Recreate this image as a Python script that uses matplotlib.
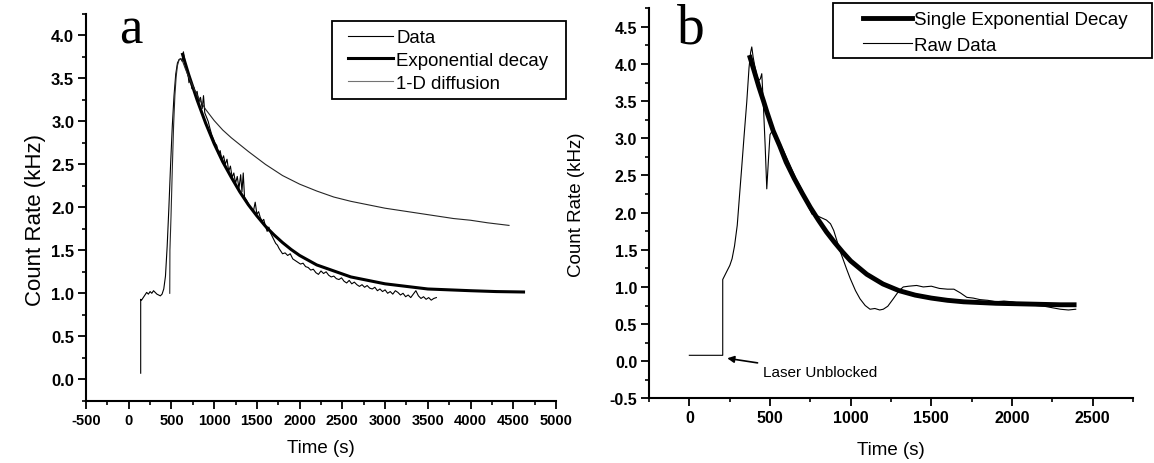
import matplotlib
matplotlib.use("Agg")
import matplotlib.pyplot as plt
from matplotlib.ticker import MultipleLocator, FormatStrFormatter
from matplotlib.lines import Line2D
from matplotlib.patches import Rectangle

plt.rcParams['font.family'] = ['Liberation Sans', 'DejaVu Sans']
plt.rcParams['axes.unicode_minus'] = False

# ---------------- panel a: values ----------------
a_data_t = [140, 140, 150, 170, 190, 210, 230, 250, 270, 290, 310, 330, 350, 370, 390,
            410, 430, 450, 470, 490, 510, 530, 550, 570, 590, 610, 625, 640, 655, 670,
            690, 705, 720, 740, 760, 780, 800, 820, 840, 860, 875, 890, 910, 930, 950,
            970, 990, 1010, 1030, 1050, 1070, 1090, 1110, 1130, 1150, 1170, 1190, 1210,
            1230, 1250, 1270, 1290, 1310, 1325, 1340, 1355, 1380, 1400, 1420, 1440, 1460,
            1480, 1500, 1520, 1540, 1560, 1580, 1600, 1620, 1640, 1660, 1680, 1700, 1720,
            1740, 1760, 1780, 1800, 1830, 1860, 1890, 1920, 1950, 1980, 2010, 2040, 2070,
            2100, 2130, 2160, 2190, 2220, 2250, 2280, 2310, 2340, 2370, 2400, 2430, 2460,
            2490, 2520, 2550, 2580, 2610, 2640, 2670, 2700, 2730, 2760, 2790, 2820, 2850,
            2880, 2910, 2940, 2970, 3000, 3030, 3060, 3090, 3120, 3150, 3180, 3210, 3240,
            3270, 3300, 3330, 3360, 3390, 3420, 3450, 3480, 3510, 3540, 3570, 3600]
a_data_y = [0.07, 0.93, 0.92, 0.95, 0.98, 1.01, 0.99, 1.02, 1.00, 1.03, 1.01, 0.99, 0.98, 0.97, 0.99,
            1.05, 1.20, 1.55, 2.00, 2.50, 2.95, 3.30, 3.55, 3.68, 3.72, 3.73, 3.70, 3.81, 3.72, 3.62,
            3.58, 3.45, 3.50, 3.38, 3.40, 3.32, 3.35, 3.22, 3.28, 3.15, 3.30, 3.10, 3.05, 3.00, 2.92,
            2.85, 2.80, 2.75, 2.72, 2.62, 2.66, 2.55, 2.60, 2.50, 2.56, 2.42, 2.48, 2.35,
            2.40, 2.28, 2.36, 2.22, 2.38, 2.18, 2.40, 2.12, 2.08, 2.04, 2.00, 1.98, 1.96,
            2.06, 1.92, 1.95, 1.88, 1.84, 1.86, 1.78, 1.72, 1.77, 1.70, 1.66, 1.62, 1.58,
            1.56, 1.52, 1.49, 1.46, 1.47, 1.44, 1.46, 1.40, 1.38, 1.36, 1.34, 1.35, 1.31,
            1.30, 1.27, 1.28, 1.24, 1.22, 1.26, 1.23, 1.25, 1.21, 1.19, 1.20, 1.17, 1.16,
            1.18, 1.14, 1.12, 1.15, 1.11, 1.13, 1.10, 1.08, 1.10, 1.07, 1.09, 1.06, 1.05,
            1.07, 1.03, 1.05, 1.02, 1.04, 1.00, 1.02, 0.99, 1.03, 1.01, 0.98, 1.00, 0.96,
            0.98, 0.95, 0.99, 1.03, 0.97, 0.94, 0.96, 0.93, 0.95, 0.92, 0.94, 0.95]

a_exp_t = [630, 700, 800, 900, 1000, 1100, 1200, 1300, 1400, 1500, 1600, 1700, 1800,
           1900, 2000, 2200, 2400, 2600, 2800, 3000, 3250, 3500, 3750, 4000, 4300, 4620]
a_exp_y = [3.78, 3.55, 3.25, 2.98, 2.74, 2.53, 2.35, 2.18, 2.03, 1.90, 1.78, 1.68, 1.59,
           1.51, 1.44, 1.33, 1.26, 1.19, 1.15, 1.11, 1.08, 1.05, 1.04, 1.03, 1.02, 1.015]

a_diff_t = [480, 482, 495, 510, 525, 540, 555, 570, 590, 610, 630, 660, 700, 750, 800,
            850, 900, 1000, 1100, 1200, 1300, 1400, 1600, 1800, 2000, 2200, 2400, 2600,
            2800, 3000, 3200, 3400, 3600, 3800, 4000, 4200, 4450]
a_diff_y = [1.00, 1.50, 1.90, 2.45, 2.95, 3.30, 3.52, 3.65, 3.72, 3.73, 3.70, 3.62, 3.52,
            3.41, 3.31, 3.22, 3.14, 3.01, 2.90, 2.81, 2.73, 2.65, 2.50, 2.37, 2.27, 2.19,
            2.12, 2.07, 2.03, 1.99, 1.96, 1.93, 1.90, 1.87, 1.85, 1.82, 1.79]

# ---------------- panel b ----------------
b_raw_t = [0, 207, 207, 230, 251, 265, 280, 297, 310, 324, 340, 356, 370, 380, 387, 395,
           405, 418, 430, 440, 449, 458, 470, 480, 490, 500, 520, 550, 583, 620, 660,
           700, 730, 760, 790, 820, 850, 875, 895, 915, 935, 955, 975, 996, 1030, 1058,
           1090, 1120, 1150, 1180, 1202, 1230, 1264, 1300, 1326, 1360, 1409, 1450, 1500,
           1550, 1600, 1640, 1680, 1720, 1760, 1800, 1850, 1900, 1950, 2000, 2050, 2100,
           2150, 2200, 2250, 2300, 2350, 2395]
b_raw_y = [0.08, 0.08, 1.10, 1.20, 1.29, 1.38, 1.55, 1.83, 2.20, 2.59, 3.05, 3.49, 3.95,
           4.16, 4.23, 4.10, 3.98, 3.85, 3.78, 3.80, 3.87, 3.50, 2.90, 2.32, 2.70, 3.05,
           3.12, 2.98, 2.84, 2.66, 2.46, 2.30, 2.12, 1.98, 1.96, 1.93, 1.90, 1.85, 1.76,
           1.62, 1.48, 1.36, 1.24, 1.12, 0.95, 0.84, 0.75, 0.70, 0.71, 0.69, 0.70, 0.74,
           0.84, 0.95, 1.00, 1.01, 1.02, 1.00, 1.01, 0.98, 0.97, 0.97, 0.92, 0.86, 0.85,
           0.83, 0.82, 0.80, 0.81, 0.80, 0.78, 0.77, 0.75, 0.74, 0.72, 0.70, 0.69, 0.70]

b_exp_t = [372, 400, 430, 460, 480, 520, 560, 600, 650, 700, 750, 800, 850, 900, 950,
           1000, 1100, 1200, 1300, 1400, 1500, 1600, 1700, 1800, 1900, 2000, 2100, 2200,
           2300, 2400]
b_exp_y = [4.12, 3.92, 3.70, 3.50, 3.36, 3.10, 2.90, 2.68, 2.46, 2.26, 2.07, 1.90, 1.74,
           1.60, 1.47, 1.35, 1.17, 1.04, 0.95, 0.89, 0.85, 0.82, 0.80, 0.79, 0.78, 0.775,
           0.77, 0.765, 0.76, 0.76]

W, H = 1154, 464
fig = plt.figure(figsize=(W / 100, H / 100), dpi=100)
axa = fig.add_axes([86 / W, 1 - 401.7 / H, 470 / W, 386.7 / H])
axb = fig.add_axes([649 / W, 1 - 399.4 / H, 484 / W, 390.1 / H])


def fx(px):
    return px / W


def fy(py):
    return 1 - py / H


for ax in (axa, axb):
    ax.spines['top'].set_visible(False)
    ax.spines['right'].set_visible(False)
    for s in ('left', 'bottom'):
        ax.spines[s].set_linewidth(1.5)
    ax.tick_params(which='major', direction='out', length=5.5, width=1.3, pad=3)
    ax.tick_params(which='minor', direction='out', length=3, width=1.2)
    ax.yaxis.set_major_locator(MultipleLocator(0.5))
    ax.yaxis.set_minor_locator(MultipleLocator(0.25))
    ax.xaxis.set_major_locator(MultipleLocator(500))
    ax.xaxis.set_minor_locator(MultipleLocator(250))
    ax.yaxis.set_major_formatter(FormatStrFormatter('%.1f'))
    ax.set_xlabel('Time (s)', fontsize=13.5)

axa.tick_params(axis='x', labelsize=10.5)
axa.tick_params(axis='y', labelsize=12)
axb.tick_params(labelsize=11.5)

# panel a
axa.plot(a_data_t, a_data_y, color='black', lw=0.8)
axa.plot(a_exp_t, a_exp_y, color='black', lw=2.2)
axa.plot(a_diff_t, a_diff_y, color='0.15', lw=0.8)
axa.set_xlim(-500, 5000)
axa.set_ylim(-0.25, 4.25)
axa.set_ylabel('Count Rate (kHz)', fontsize=16)
axa.xaxis.set_label_coords(0.5, -0.1)
axa.yaxis.set_label_coords(-0.085, 0.47)

handles_a = [Line2D([], [], color='black', lw=0.8),
             Line2D([], [], color='black', lw=2.2),
             Line2D([], [], color='0.45', lw=0.8)]
fig.legend(handles_a, ['Data', 'Exponential decay', '1-D diffusion'],
           loc='upper left', bbox_to_anchor=(fx(348), fy(30)),
           fontsize=13.4, frameon=False, handlelength=2.4, handletextpad=0.2,
           labelspacing=0.32, borderpad=0, borderaxespad=0)
fig.patches.append(Rectangle((fx(332), fy(100)), fx(566) - fx(332), fy(22) - fy(100),
                             transform=fig.transFigure, fill=False, lw=1.3,
                             edgecolor='black'))
fig.text(fx(119), fy(43), 'a', fontsize=38, family='Liberation Serif', va='baseline')

# panel b
axb.plot(b_raw_t, b_raw_y, color='black', lw=0.8)
axb.plot(b_exp_t, b_exp_y, color='black', lw=3.5, solid_capstyle='butt')
axb.set_xlim(-250, 2750)
axb.set_ylim(-0.5, 4.75)
axb.set_xticks([0, 500, 1000, 1500, 2000, 2500])
axb.set_ylabel('Count Rate (kHz)', fontsize=13.5)
axb.xaxis.set_label_coords(0.5, -0.11)
axb.yaxis.set_label_coords(-0.132, 0.5)

handles_b = [Line2D([], [], color='black', lw=3.5),
             Line2D([], [], color='black', lw=0.8)]
fig.legend(handles_b, ['Single Exponential Decay', 'Raw Data'],
           loc='upper left', bbox_to_anchor=(fx(863), fy(12)),
           fontsize=13.5, frameon=False, handlelength=2.6, handletextpad=0.1,
           labelspacing=0.45, borderpad=0, borderaxespad=0)
fig.patches.append(Rectangle((fx(833), fy(59)), fx(1152) - fx(833), fy(4) - fy(59),
                             transform=fig.transFigure, fill=False, lw=1.3,
                             edgecolor='black'))
axb.annotate('Laser Unblocked', xy=(235, 0.04), xytext=(457, -0.15),
             fontsize=11, va='center', ha='left',
             arrowprops=dict(arrowstyle='-|>', color='black', lw=1.2,
                             shrinkA=2, shrinkB=0, mutation_scale=10))
fig.text(fx(677), fy(44), 'b', fontsize=40, family='Liberation Serif', va='baseline')

for ax in (axa, axb):
    for lab in ax.get_xticklabels() + ax.get_yticklabels():
        lab.set_fontweight('bold')

fig.savefig('out.png', dpi=100, facecolor='white')
